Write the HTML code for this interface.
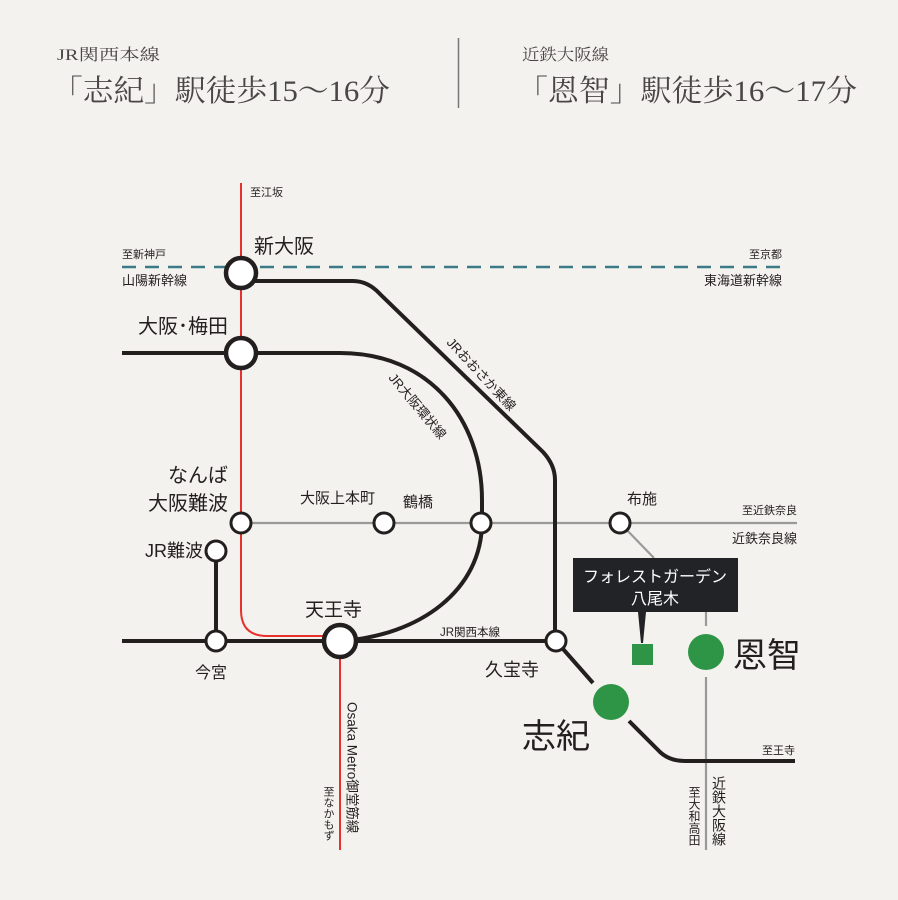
<!DOCTYPE html>
<html><head><meta charset="utf-8"><style>
html,body{margin:0;padding:0;background:#f3f2ee;}
svg{display:block}
text{font-family:"Liberation Sans","Noto Sans CJK JP",sans-serif;fill:#231f1f}
.serif{font-family:"Liberation Serif","Noto Serif CJK SC",serif;fill:#4a4646}
.vt{position:absolute;font-family:"Liberation Sans","Noto Sans CJK JP",sans-serif;color:#231f1f;writing-mode:vertical-rl;text-orientation:sideways;white-space:nowrap;line-height:1}
</style></head><body>
<div style="position:relative;width:898px;height:900px">
<svg width="898" height="900" viewBox="0 0 898 900" xmlns="http://www.w3.org/2000/svg">
<rect width="898" height="900" fill="#f3f2ee"/>
<!-- header -->
<text class="serif" x="57" y="60" font-size="16" textLength="103" lengthAdjust="spacingAndGlyphs">JR関西本線</text>
<text class="serif" x="52" y="101" font-size="30" textLength="338" lengthAdjust="spacingAndGlyphs">「志紀」駅徒歩15〜16分</text>
<line x1="458.5" y1="38" x2="458.5" y2="108" stroke="#777" stroke-width="1.5"/>
<text class="serif" x="522" y="60" font-size="16" textLength="87" lengthAdjust="spacingAndGlyphs">近鉄大阪線</text>
<text class="serif" x="517" y="101" font-size="30" textLength="340" lengthAdjust="spacingAndGlyphs">「恩智」駅徒歩16〜17分</text>

<path d="M241,183 V610 Q241,636 267,636 H325" fill="none" stroke="#e8302c" stroke-width="2"/>
<line x1="340" y1="655" x2="340" y2="850" stroke="#e8302c" stroke-width="2"/>
<line x1="122" y1="267" x2="782" y2="267" stroke="#3b7a86" stroke-width="2.5" stroke-dasharray="14,9"/>
<line x1="241" y1="523" x2="797" y2="523" stroke="#999" stroke-width="2.2"/>
<line x1="620" y1="523" x2="654" y2="558" stroke="#999" stroke-width="2.2"/>
<line x1="706" y1="612" x2="706" y2="626" stroke="#999" stroke-width="2.2"/>
<line x1="706" y1="677" x2="706" y2="850" stroke="#999" stroke-width="2.2"/>
<path d="M241,281 H353 Q368,281 380,294 L543,452 Q555,465 555,480 V641" fill="none" stroke="#231f1f" stroke-width="4"/>
<path d="M122,353 H340 C430,353 482,420 482,500 V522 C482,590 420,636 340,641" fill="none" stroke="#231f1f" stroke-width="4"/>
<line x1="122" y1="641" x2="556" y2="641" stroke="#231f1f" stroke-width="4"/>
<line x1="216" y1="551" x2="216" y2="641" stroke="#231f1f" stroke-width="4"/>
<path d="M556,641 L593,683 M629,721 L658,750 Q668,761 685,761 H795" fill="none" stroke="#231f1f" stroke-width="4"/>
<g fill="#fff" stroke="#231f1f">
<circle cx="241" cy="273" r="15" stroke-width="4.5"/>
<circle cx="241" cy="353" r="15" stroke-width="4.5"/>
<circle cx="241" cy="523" r="10" stroke-width="3"/>
<circle cx="384" cy="523" r="10" stroke-width="3"/>
<circle cx="481" cy="523" r="10" stroke-width="3"/>
<circle cx="620" cy="523" r="10" stroke-width="3"/>
<circle cx="216" cy="551" r="10" stroke-width="3"/>
<circle cx="216" cy="641" r="10" stroke-width="3"/>
<circle cx="340" cy="641" r="16" stroke-width="4.5"/>
<circle cx="556" cy="641" r="10" stroke-width="3"/>
</g>
<circle cx="611" cy="702" r="18" fill="#2e9546"/>
<circle cx="706" cy="652" r="18" fill="#2e9546"/>
<rect x="632" y="644" width="21" height="21" fill="#2e9546"/>
<rect x="573" y="558" width="165" height="54" fill="#222326"/>
<polygon points="638,612 646,612 643,643 641,643" fill="#222326"/>
<text x="655" y="582" font-size="16" text-anchor="middle" style="fill:#fff">フォレストガーデン</text>
<text x="655" y="604" font-size="16" text-anchor="middle" style="fill:#fff">八尾木</text>
<text x="250" y="196" font-size="11">至江坂</text>
<text x="254" y="253" font-size="20">新大阪</text>
<text x="122" y="258" font-size="11">至新神戸</text>
<text x="122" y="285" font-size="13">山陽新幹線</text>
<text x="782" y="258" font-size="11" text-anchor="end">至京都</text>
<text x="782" y="285" font-size="13" text-anchor="end">東海道新幹線</text>
<text x="228" y="333" font-size="20" text-anchor="end">大阪･梅田</text>
<text x="228" y="482" font-size="20" text-anchor="end">なんば</text>
<text x="228" y="510" font-size="20" text-anchor="end">大阪難波</text>
<text x="300" y="503" font-size="15">大阪上本町</text>
<text x="403" y="507" font-size="15">鶴橋</text>
<text x="627" y="504" font-size="15">布施</text>
<text x="797" y="514" font-size="11" text-anchor="end">至近鉄奈良</text>
<text x="797" y="543" font-size="13" text-anchor="end">近鉄奈良線</text>
<text x="203" y="557" font-size="18" text-anchor="end">JR難波</text>
<text x="305" y="616" font-size="19">天王寺</text>
<text x="195" y="678" font-size="16">今宮</text>
<text x="440" y="636" font-size="11.5">JR関西本線</text>
<text x="485" y="676" font-size="18">久宝寺</text>
<text x="795" y="754" font-size="11" text-anchor="end">至王寺</text>
<text x="733" y="667" font-size="34">恩智</text>
<text x="522" y="748" font-size="34">志紀</text>
<text font-size="13" transform="translate(446,343) rotate(47)">JRおおさか東線</text>
<text font-size="13" transform="translate(388,378) rotate(50)">JR大阪環状線</text>
<text font-size="11" x="328" y="786" style="writing-mode:vertical-rl">至なかもず</text>
<text font-size="14" x="719" y="776" style="writing-mode:vertical-rl">近鉄大阪線</text>
<text font-size="12" x="694" y="786" style="writing-mode:vertical-rl">至大和高田</text>
</svg>
<div class="vt" style="left:345px;top:702px;font-size:13.5px">Osaka Metro御堂筋線</div>
</div>
</body></html>
